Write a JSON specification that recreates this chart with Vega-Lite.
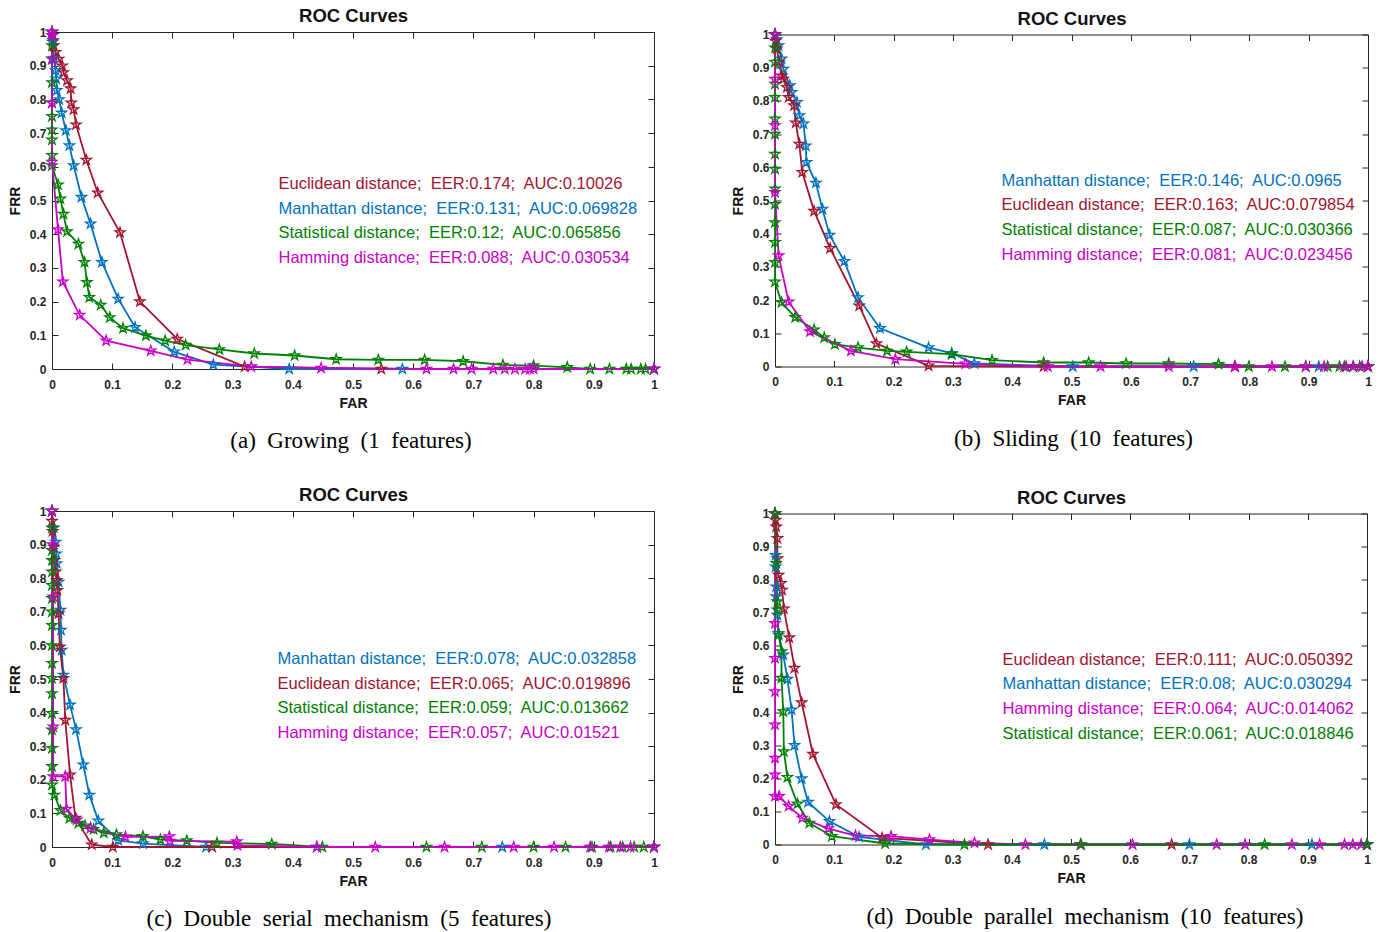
{
  "$schema": "https://vega.github.io/schema/vega-lite/v6.json",
  "padding": {"left": 7, "top": 6, "right": 4, "bottom": 0},
  "background": "white",
  "config": {
    "font": "Liberation Sans",
    "view": {"stroke": "#262626", "strokeWidth": 1},
    "axis": {"domain": false, "grid": false, "tickCount": 10, "tickSize": -6, "tickColor": "#262626", "tickWidth": 1,
             "labelFont": "Liberation Sans", "labelFontSize": 12, "labelFontWeight": "bold", "labelColor": "#262626",
             "labelPadding": 14, "labelFlush": false, "labelOverlap": false,
             "titleFont": "Liberation Sans", "titleFontSize": 14, "titleFontWeight": "bold", "titleColor": "#111111", "titlePadding": 6},
    "axisX": {"labelPadding": 16},
    "axisY": {"labelPadding": 12, "titlePadding": 7},
    "legend": {"symbolOpacity": 0, "symbolSize": 0, "symbolStrokeWidth": 0, "labelFont": "Liberation Sans", "labelFontSize": 16.5, "labelLimit": 0, "labelOffset": 0, "rowPadding": 7.6, "padding": 0},
    "title": {"font": "Liberation Serif", "fontSize": 23, "fontWeight": "normal", "color": "#000000"}
  },
  "datasets": {
    "a": [
      {"m":"E","x":0,"y":1},{"m":"E","x":0.001,"y":0.99},{"m":"E","x":0.002,"y":0.975},{"m":"E","x":0.003,"y":0.96},{"m":"E","x":0.006,"y":0.94},{"m":"E","x":0.011,"y":0.92},{"m":"E","x":0.017,"y":0.9},{"m":"E","x":0.019,"y":0.88},{"m":"E","x":0.025,"y":0.856},{"m":"E","x":0.031,"y":0.832},{"m":"E","x":0.032,"y":0.79},{"m":"E","x":0.036,"y":0.77},{"m":"E","x":0.04,"y":0.725},{"m":"E","x":0.057,"y":0.62},{"m":"E","x":0.076,"y":0.523},{"m":"E","x":0.113,"y":0.405},{"m":"E","x":0.146,"y":0.2},{"m":"E","x":0.208,"y":0.089},{"m":"E","x":0.32,"y":0.007},{"m":"E","x":0.547,"y":0},{"m":"E","x":1,"y":0},
      {"m":"M","x":0,"y":1},{"m":"M","x":0.001,"y":0.97},{"m":"M","x":0.003,"y":0.921},{"m":"M","x":0.006,"y":0.886},{"m":"M","x":0.007,"y":0.861},{"m":"M","x":0.008,"y":0.827},{"m":"M","x":0.012,"y":0.8},{"m":"M","x":0.016,"y":0.76},{"m":"M","x":0.023,"y":0.708},{"m":"M","x":0.029,"y":0.663},{"m":"M","x":0.036,"y":0.604},{"m":"M","x":0.049,"y":0.51},{"m":"M","x":0.064,"y":0.431},{"m":"M","x":0.083,"y":0.317},{"m":"M","x":0.11,"y":0.208},{"m":"M","x":0.138,"y":0.124},{"m":"M","x":0.203,"y":0.051},{"m":"M","x":0.268,"y":0.013},{"m":"M","x":0.394,"y":0},{"m":"M","x":0.582,"y":0},{"m":"M","x":1,"y":0},
      {"m":"S","x":0,"y":1},{"m":"S","x":0,"y":0.96},{"m":"S","x":0,"y":0.92},{"m":"S","x":0,"y":0.85},{"m":"S","x":0,"y":0.79},{"m":"S","x":0,"y":0.75},{"m":"S","x":0,"y":0.71},{"m":"S","x":0,"y":0.68},{"m":"S","x":0,"y":0.634},{"m":"S","x":0,"y":0.604},{"m":"S","x":0.01,"y":0.547},{"m":"S","x":0.014,"y":0.505},{"m":"S","x":0.019,"y":0.46},{"m":"S","x":0.025,"y":0.408},{"m":"S","x":0.044,"y":0.371},{"m":"S","x":0.054,"y":0.317},{"m":"S","x":0.058,"y":0.257},{"m":"S","x":0.062,"y":0.213},{"m":"S","x":0.081,"y":0.19},{"m":"S","x":0.096,"y":0.153},{"m":"S","x":0.118,"y":0.121},{"m":"S","x":0.156,"y":0.099},{"m":"S","x":0.188,"y":0.084},{"m":"S","x":0.222,"y":0.071},{"m":"S","x":0.278,"y":0.058},{"m":"S","x":0.336,"y":0.046},{"m":"S","x":0.403,"y":0.04},{"m":"S","x":0.472,"y":0.029},{"m":"S","x":0.542,"y":0.027},{"m":"S","x":0.619,"y":0.027},{"m":"S","x":0.683,"y":0.023},{"m":"S","x":0.749,"y":0.012},{"m":"S","x":0.8,"y":0.01},{"m":"S","x":0.856,"y":0.005},{"m":"S","x":0.894,"y":0},{"m":"S","x":0.926,"y":0},{"m":"S","x":0.954,"y":0},{"m":"S","x":0.962,"y":0},{"m":"S","x":0.978,"y":0},{"m":"S","x":0.986,"y":0},{"m":"S","x":1,"y":0},
      {"m":"H","x":0,"y":1},{"m":"H","x":0,"y":0.99},{"m":"H","x":0,"y":0.92},{"m":"H","x":0,"y":0.79},{"m":"H","x":0,"y":0.614},{"m":"H","x":0.01,"y":0.414},{"m":"H","x":0.018,"y":0.259},{"m":"H","x":0.046,"y":0.16},{"m":"H","x":0.09,"y":0.084},{"m":"H","x":0.164,"y":0.054},{"m":"H","x":0.225,"y":0.028},{"m":"H","x":0.331,"y":0.007},{"m":"H","x":0.447,"y":0.003},{"m":"H","x":0.622,"y":0},{"m":"H","x":0.667,"y":0},{"m":"H","x":0.697,"y":0},{"m":"H","x":0.733,"y":0},{"m":"H","x":0.752,"y":0},{"m":"H","x":0.769,"y":0},{"m":"H","x":0.786,"y":0},{"m":"H","x":0.794,"y":0},{"m":"H","x":0.8,"y":0},{"m":"H","x":1,"y":0}
    ],
    "b": [
      {"m":"M","x":0,"y":1},{"m":"M","x":0.003,"y":0.985},{"m":"M","x":0.006,"y":0.967},{"m":"M","x":0.011,"y":0.927},{"m":"M","x":0.014,"y":0.896},{"m":"M","x":0.025,"y":0.846},{"m":"M","x":0.028,"y":0.826},{"m":"M","x":0.037,"y":0.796},{"m":"M","x":0.041,"y":0.756},{"m":"M","x":0.048,"y":0.731},{"m":"M","x":0.052,"y":0.665},{"m":"M","x":0.053,"y":0.615},{"m":"M","x":0.069,"y":0.553},{"m":"M","x":0.08,"y":0.474},{"m":"M","x":0.092,"y":0.396},{"m":"M","x":0.117,"y":0.317},{"m":"M","x":0.14,"y":0.208},{"m":"M","x":0.177,"y":0.115},{"m":"M","x":0.259,"y":0.057},{"m":"M","x":0.298,"y":0.04},{"m":"M","x":0.336,"y":0.009},{"m":"M","x":0.502,"y":0},{"m":"M","x":0.706,"y":0},{"m":"M","x":0.917,"y":0},{"m":"M","x":1,"y":0},
      {"m":"E","x":0,"y":1},{"m":"E","x":0.001,"y":0.98},{"m":"E","x":0.003,"y":0.957},{"m":"E","x":0.007,"y":0.917},{"m":"E","x":0.011,"y":0.876},{"m":"E","x":0.014,"y":0.866},{"m":"E","x":0.02,"y":0.841},{"m":"E","x":0.023,"y":0.811},{"m":"E","x":0.032,"y":0.786},{"m":"E","x":0.035,"y":0.734},{"m":"E","x":0.041,"y":0.67},{"m":"E","x":0.046,"y":0.585},{"m":"E","x":0.066,"y":0.468},{"m":"E","x":0.093,"y":0.356},{"m":"E","x":0.142,"y":0.183},{"m":"E","x":0.171,"y":0.069},{"m":"E","x":0.259,"y":0.002},{"m":"E","x":0.453,"y":0},{"m":"E","x":0.776,"y":0},{"m":"E","x":1,"y":0},
      {"m":"S","x":0,"y":1},{"m":"S","x":0,"y":0.96},{"m":"S","x":0,"y":0.917},{"m":"S","x":0,"y":0.851},{"m":"S","x":0,"y":0.811},{"m":"S","x":0,"y":0.746},{"m":"S","x":0,"y":0.7},{"m":"S","x":0,"y":0.64},{"m":"S","x":0,"y":0.595},{"m":"S","x":0,"y":0.535},{"m":"S","x":0,"y":0.489},{"m":"S","x":0,"y":0.434},{"m":"S","x":0,"y":0.374},{"m":"S","x":0,"y":0.314},{"m":"S","x":0,"y":0.255},{"m":"S","x":0.011,"y":0.193},{"m":"S","x":0.034,"y":0.148},{"m":"S","x":0.066,"y":0.111},{"m":"S","x":0.083,"y":0.087},{"m":"S","x":0.101,"y":0.067},{"m":"S","x":0.14,"y":0.057},{"m":"S","x":0.189,"y":0.047},{"m":"S","x":0.222,"y":0.044},{"m":"S","x":0.298,"y":0.037},{"m":"S","x":0.366,"y":0.019},{"m":"S","x":0.453,"y":0.012},{"m":"S","x":0.529,"y":0.012},{"m":"S","x":0.592,"y":0.009},{"m":"S","x":0.664,"y":0.009},{"m":"S","x":0.748,"y":0.007},{"m":"S","x":0.799,"y":0},{"m":"S","x":0.86,"y":0},{"m":"S","x":0.895,"y":0},{"m":"S","x":0.932,"y":0},{"m":"S","x":0.952,"y":0},{"m":"S","x":0.963,"y":0},{"m":"S","x":0.975,"y":0},{"m":"S","x":0.986,"y":0},{"m":"S","x":1,"y":0},
      {"m":"H","x":0,"y":1},{"m":"H","x":0,"y":0.866},{"m":"H","x":0,"y":0.726},{"m":"H","x":0,"y":0.525},{"m":"H","x":0.006,"y":0.334},{"m":"H","x":0.023,"y":0.195},{"m":"H","x":0.059,"y":0.105},{"m":"H","x":0.128,"y":0.047},{"m":"H","x":0.203,"y":0.022},{"m":"H","x":0.321,"y":0.008},{"m":"H","x":0.46,"y":0},{"m":"H","x":0.549,"y":0},{"m":"H","x":0.664,"y":0},{"m":"H","x":0.775,"y":0},{"m":"H","x":0.838,"y":0},{"m":"H","x":0.895,"y":0},{"m":"H","x":0.926,"y":0},{"m":"H","x":0.96,"y":0},{"m":"H","x":0.975,"y":0},{"m":"H","x":0.99,"y":0},{"m":"H","x":1,"y":0}
    ],
    "c": [
      {"m":"M","x":0,"y":1},{"m":"M","x":0.003,"y":0.95},{"m":"M","x":0.006,"y":0.908},{"m":"M","x":0.007,"y":0.873},{"m":"M","x":0.008,"y":0.844},{"m":"M","x":0.011,"y":0.789},{"m":"M","x":0.014,"y":0.705},{"m":"M","x":0.015,"y":0.646},{"m":"M","x":0.016,"y":0.586},{"m":"M","x":0.019,"y":0.512},{"m":"M","x":0.03,"y":0.423},{"m":"M","x":0.04,"y":0.35},{"m":"M","x":0.052,"y":0.245},{"m":"M","x":0.062,"y":0.155},{"m":"M","x":0.077,"y":0.078},{"m":"M","x":0.11,"y":0.02},{"m":"M","x":0.151,"y":0.01},{"m":"M","x":0.256,"y":0},{"m":"M","x":0.44,"y":0},{"m":"M","x":0.748,"y":0},{"m":"M","x":1,"y":0},
      {"m":"E","x":0,"y":1},{"m":"E","x":0,"y":0.97},{"m":"E","x":0.001,"y":0.94},{"m":"E","x":0.003,"y":0.893},{"m":"E","x":0.004,"y":0.853},{"m":"E","x":0.006,"y":0.819},{"m":"E","x":0.008,"y":0.794},{"m":"E","x":0.009,"y":0.764},{"m":"E","x":0.011,"y":0.695},{"m":"E","x":0.013,"y":0.596},{"m":"E","x":0.019,"y":0.502},{"m":"E","x":0.022,"y":0.378},{"m":"E","x":0.03,"y":0.215},{"m":"E","x":0.039,"y":0.086},{"m":"E","x":0.066,"y":0.007},{"m":"E","x":0.101,"y":0},{"m":"E","x":0.266,"y":0},{"m":"E","x":1,"y":0},
      {"m":"S","x":0,"y":1},{"m":"S","x":0,"y":0.95},{"m":"S","x":0,"y":0.883},{"m":"S","x":0,"y":0.853},{"m":"S","x":0,"y":0.819},{"m":"S","x":0,"y":0.779},{"m":"S","x":0,"y":0.74},{"m":"S","x":0,"y":0.7},{"m":"S","x":0,"y":0.66},{"m":"S","x":0,"y":0.6},{"m":"S","x":0,"y":0.547},{"m":"S","x":0,"y":0.502},{"m":"S","x":0,"y":0.457},{"m":"S","x":0,"y":0.398},{"m":"S","x":0,"y":0.349},{"m":"S","x":0,"y":0.294},{"m":"S","x":0,"y":0.24},{"m":"S","x":0,"y":0.185},{"m":"S","x":0.004,"y":0.155},{"m":"S","x":0.014,"y":0.109},{"m":"S","x":0.029,"y":0.086},{"m":"S","x":0.044,"y":0.071},{"m":"S","x":0.055,"y":0.063},{"m":"S","x":0.069,"y":0.053},{"m":"S","x":0.086,"y":0.042},{"m":"S","x":0.107,"y":0.037},{"m":"S","x":0.151,"y":0.032},{"m":"S","x":0.18,"y":0.022},{"m":"S","x":0.224,"y":0.019},{"m":"S","x":0.274,"y":0.012},{"m":"S","x":0.365,"y":0.009},{"m":"S","x":0.449,"y":0},{"m":"S","x":0.622,"y":0},{"m":"S","x":0.714,"y":0},{"m":"S","x":0.8,"y":0},{"m":"S","x":0.853,"y":0},{"m":"S","x":0.897,"y":0},{"m":"S","x":0.928,"y":0},{"m":"S","x":0.948,"y":0},{"m":"S","x":0.967,"y":0},{"m":"S","x":0.983,"y":0},{"m":"S","x":1,"y":0},
      {"m":"H","x":0,"y":1},{"m":"H","x":0.001,"y":0.9},{"m":"H","x":0.002,"y":0.745},{"m":"H","x":0.002,"y":0.358},{"m":"H","x":0.002,"y":0.21},{"m":"H","x":0.022,"y":0.21},{"m":"H","x":0.024,"y":0.113},{"m":"H","x":0.041,"y":0.081},{"m":"H","x":0.064,"y":0.056},{"m":"H","x":0.122,"y":0.03},{"m":"H","x":0.195,"y":0.031},{"m":"H","x":0.196,"y":0.018},{"m":"H","x":0.307,"y":0.016},{"m":"H","x":0.308,"y":0.005},{"m":"H","x":0.44,"y":0},{"m":"H","x":0.537,"y":0},{"m":"H","x":0.652,"y":0},{"m":"H","x":0.767,"y":0},{"m":"H","x":0.834,"y":0},{"m":"H","x":0.894,"y":0},{"m":"H","x":0.925,"y":0},{"m":"H","x":0.944,"y":0},{"m":"H","x":0.961,"y":0},{"m":"H","x":1,"y":0}
    ],
    "d": [
      {"m":"E","x":0,"y":1},{"m":"E","x":0.001,"y":0.98},{"m":"E","x":0.002,"y":0.96},{"m":"E","x":0.004,"y":0.925},{"m":"E","x":0.004,"y":0.864},{"m":"E","x":0.006,"y":0.814},{"m":"E","x":0.01,"y":0.789},{"m":"E","x":0.012,"y":0.769},{"m":"E","x":0.015,"y":0.712},{"m":"E","x":0.024,"y":0.625},{"m":"E","x":0.033,"y":0.533},{"m":"E","x":0.045,"y":0.429},{"m":"E","x":0.064,"y":0.273},{"m":"E","x":0.103,"y":0.121},{"m":"E","x":0.181,"y":0.02},{"m":"E","x":0.36,"y":0},{"m":"E","x":0.67,"y":0},{"m":"E","x":1,"y":0},
      {"m":"M","x":0,"y":1},{"m":"M","x":0.001,"y":0.874},{"m":"M","x":0.001,"y":0.839},{"m":"M","x":0.002,"y":0.779},{"m":"M","x":0.002,"y":0.749},{"m":"M","x":0.004,"y":0.693},{"m":"M","x":0.006,"y":0.638},{"m":"M","x":0.014,"y":0.573},{"m":"M","x":0.021,"y":0.5},{"m":"M","x":0.028,"y":0.407},{"m":"M","x":0.033,"y":0.3},{"m":"M","x":0.045,"y":0.199},{"m":"M","x":0.056,"y":0.128},{"m":"M","x":0.092,"y":0.07},{"m":"M","x":0.142,"y":0.023},{"m":"M","x":0.255,"y":0},{"m":"M","x":0.455,"y":0},{"m":"M","x":0.7,"y":0},{"m":"M","x":0.907,"y":0},{"m":"M","x":1,"y":0},
      {"m":"H","x":0,"y":1},{"m":"H","x":0,"y":0.668},{"m":"H","x":0,"y":0.563},{"m":"H","x":0,"y":0.462},{"m":"H","x":0,"y":0.362},{"m":"H","x":0,"y":0.261},{"m":"H","x":0,"y":0.211},{"m":"H","x":0,"y":0.146},{"m":"H","x":0.007,"y":0.146},{"m":"H","x":0.023,"y":0.116},{"m":"H","x":0.046,"y":0.08},{"m":"H","x":0.09,"y":0.048},{"m":"H","x":0.136,"y":0.027},{"m":"H","x":0.196,"y":0.025},{"m":"H","x":0.261,"y":0.015},{"m":"H","x":0.337,"y":0.005},{"m":"H","x":0.423,"y":0},{"m":"H","x":0.516,"y":0},{"m":"H","x":0.604,"y":0},{"m":"H","x":0.746,"y":0},{"m":"H","x":0.794,"y":0},{"m":"H","x":0.873,"y":0},{"m":"H","x":0.92,"y":0},{"m":"H","x":0.962,"y":0},{"m":"H","x":0.976,"y":0},{"m":"H","x":0.99,"y":0},{"m":"H","x":1,"y":0},
      {"m":"S","x":0,"y":1},{"m":"S","x":0.002,"y":0.85},{"m":"S","x":0.004,"y":0.734},{"m":"S","x":0.004,"y":0.709},{"m":"S","x":0.006,"y":0.633},{"m":"S","x":0.011,"y":0.583},{"m":"S","x":0.011,"y":0.503},{"m":"S","x":0.014,"y":0.402},{"m":"S","x":0.015,"y":0.281},{"m":"S","x":0.021,"y":0.203},{"m":"S","x":0.038,"y":0.123},{"m":"S","x":0.058,"y":0.065},{"m":"S","x":0.096,"y":0.025},{"m":"S","x":0.186,"y":0.003},{"m":"S","x":0.32,"y":0},{"m":"S","x":0.517,"y":0},{"m":"S","x":0.827,"y":0},{"m":"S","x":1,"y":0}
    ]
  },
  "bounds": "flush",
  "spacing": 479,
  "resolve": {"scale": {"color": "independent"}},
  "vconcat": [
    {
      "bounds": "flush", "spacing": 121, "center": true,
      "resolve": {"scale": {"color": "independent"}},
      "hconcat": [
        {
          "width": 602, "height": 337,
          "data": {"name": "a"},
          "title": {"text": "(a) \u00a0Growing \u00a0(1 \u00a0features)", "orient": "bottom", "anchor": "middle", "frame": "group", "offset": 20, "dx": -2},
          "encoding": {"color": {"field": "m", "type": "nominal",
            "scale": {"domain": ["E","M","S","H"], "range": ["#A2142F","#0072BD","#008000","#C800C8"]},
            "legend": {"orient": "none", "legendX": 210, "legendY": 144, "title": null,
              "labelExpr": "datum.value == 'E' ? 'Euclidean distance;\u00a0 EER:0.174;\u00a0 AUC:0.10026' : datum.value == 'M' ? 'Manhattan distance;\u00a0 EER:0.131;\u00a0 AUC:0.069828' : datum.value == 'S' ? 'Statistical distance;\u00a0 EER:0.12;\u00a0 AUC:0.065856' : 'Hamming distance;\u00a0 EER:0.088;\u00a0 AUC:0.030534'",
              "labelColor": {"expr": "datum.value == 'E' ? '#A2142F' : datum.value == 'M' ? '#0072BD' : datum.value == 'S' ? '#008000' : '#C800C8'"}}}},
          "layer": [
            {"mark": {"type": "line", "strokeWidth": 1.8},
             "encoding": {"x": {"field": "x", "type": "quantitative", "scale": {"domain": [0, 1], "nice": false}, "axis": {"orient": "bottom", "title": "FAR", "format": "~g"}},
                          "y": {"field": "y", "type": "quantitative", "scale": {"domain": [0, 1], "nice": false}, "axis": {"orient": "left", "title": "FRR", "format": "~g"}}}},
            {"mark": {"type": "point", "shape": "M0,-1L0.2245,-0.309L0.951,-0.309L0.363,0.118L0.588,0.809L0,0.382L-0.588,0.809L-0.363,0.118L-0.951,-0.309L-0.2245,-0.309Z", "filled": false, "size": 110, "strokeWidth": 1.3, "opacity": 1},
             "encoding": {"x": {"field": "x", "type": "quantitative", "axis": {"orient": "top", "labels": false, "title": "ROC Curves", "titleFontSize": 18.5}},
                          "y": {"field": "y", "type": "quantitative", "axis": {"orient": "right", "labels": false, "title": null}}}}
          ]
        },
        {
          "width": 593, "height": 332,
          "data": {"name": "b"},
          "title": {"text": "(b) \u00a0Sliding \u00a0(10 \u00a0features)", "orient": "bottom", "anchor": "middle", "frame": "group", "offset": 20, "dx": 2},
          "encoding": {"color": {"field": "m", "type": "nominal",
            "scale": {"domain": ["M","E","S","H"], "range": ["#0072BD","#A2142F","#008000","#C800C8"]},
            "legend": {"orient": "none", "legendX": 210, "legendY": 138, "title": null,
              "labelExpr": "datum.value == 'E' ? 'Euclidean distance;\u00a0 EER:0.163;\u00a0 AUC:0.079854' : datum.value == 'M' ? 'Manhattan distance;\u00a0 EER:0.146;\u00a0 AUC:0.0965' : datum.value == 'S' ? 'Statistical distance;\u00a0 EER:0.087;\u00a0 AUC:0.030366' : 'Hamming distance;\u00a0 EER:0.081;\u00a0 AUC:0.023456'",
              "labelColor": {"expr": "datum.value == 'E' ? '#A2142F' : datum.value == 'M' ? '#0072BD' : datum.value == 'S' ? '#008000' : '#C800C8'"}}}},
          "layer": [
            {"mark": {"type": "line", "strokeWidth": 1.8},
             "encoding": {"x": {"field": "x", "type": "quantitative", "scale": {"domain": [0, 1], "nice": false}, "axis": {"orient": "bottom", "title": "FAR", "format": "~g"}},
                          "y": {"field": "y", "type": "quantitative", "scale": {"domain": [0, 1], "nice": false}, "axis": {"orient": "left", "title": "FRR", "format": "~g"}}}},
            {"mark": {"type": "point", "shape": "M0,-1L0.2245,-0.309L0.951,-0.309L0.363,0.118L0.588,0.809L0,0.382L-0.588,0.809L-0.363,0.118L-0.951,-0.309L-0.2245,-0.309Z", "filled": false, "size": 110, "strokeWidth": 1.3, "opacity": 1},
             "encoding": {"x": {"field": "x", "type": "quantitative", "axis": {"orient": "top", "labels": false, "title": "ROC Curves", "titleFontSize": 18.5}},
                          "y": {"field": "y", "type": "quantitative", "axis": {"orient": "right", "labels": false, "title": null}}}}
          ]
        }
      ]
    },
    {
      "bounds": "flush", "spacing": 121, "center": true,
      "resolve": {"scale": {"color": "independent"}},
      "hconcat": [
        {
          "width": 602, "height": 336,
          "data": {"name": "c"},
          "title": {"text": "(c) \u00a0Double \u00a0serial \u00a0mechanism \u00a0(5 \u00a0features)", "orient": "bottom", "anchor": "middle", "frame": "group", "offset": 20, "dx": -4},
          "encoding": {"color": {"field": "m", "type": "nominal",
            "scale": {"domain": ["M","E","S","H"], "range": ["#0072BD","#A2142F","#008000","#C800C8"]},
            "legend": {"orient": "none", "legendX": 209, "legendY": 140, "title": null,
              "labelExpr": "datum.value == 'E' ? 'Euclidean distance;\u00a0 EER:0.065;\u00a0 AUC:0.019896' : datum.value == 'M' ? 'Manhattan distance;\u00a0 EER:0.078;\u00a0 AUC:0.032858' : datum.value == 'S' ? 'Statistical distance;\u00a0 EER:0.059;\u00a0 AUC:0.013662' : 'Hamming distance;\u00a0 EER:0.057;\u00a0 AUC:0.01521'",
              "labelColor": {"expr": "datum.value == 'E' ? '#A2142F' : datum.value == 'M' ? '#0072BD' : datum.value == 'S' ? '#008000' : '#C800C8'"}}}},
          "layer": [
            {"mark": {"type": "line", "strokeWidth": 1.8},
             "encoding": {"x": {"field": "x", "type": "quantitative", "scale": {"domain": [0, 1], "nice": false}, "axis": {"orient": "bottom", "title": "FAR", "format": "~g"}},
                          "y": {"field": "y", "type": "quantitative", "scale": {"domain": [0, 1], "nice": false}, "axis": {"orient": "left", "title": "FRR", "format": "~g"}}}},
            {"mark": {"type": "point", "shape": "M0,-1L0.2245,-0.309L0.951,-0.309L0.363,0.118L0.588,0.809L0,0.382L-0.588,0.809L-0.363,0.118L-0.951,-0.309L-0.2245,-0.309Z", "filled": false, "size": 110, "strokeWidth": 1.3, "opacity": 1},
             "encoding": {"x": {"field": "x", "type": "quantitative", "axis": {"orient": "top", "labels": false, "title": "ROC Curves", "titleFontSize": 18.5}},
                          "y": {"field": "y", "type": "quantitative", "axis": {"orient": "right", "labels": false, "title": null}}}}
          ]
        },
        {
          "width": 592, "height": 331,
          "data": {"name": "d"},
          "title": {"text": "(d) \u00a0Double \u00a0parallel \u00a0mechanism \u00a0(10 \u00a0features)", "orient": "bottom", "anchor": "middle", "frame": "group", "offset": 20, "dx": 14},
          "encoding": {"color": {"field": "m", "type": "nominal",
            "scale": {"domain": ["E","M","H","S"], "range": ["#A2142F","#0072BD","#C800C8","#008000"]},
            "legend": {"orient": "none", "legendX": 211, "legendY": 138, "title": null,
              "labelExpr": "datum.value == 'E' ? 'Euclidean distance;\u00a0 EER:0.111;\u00a0 AUC:0.050392' : datum.value == 'M' ? 'Manhattan distance;\u00a0 EER:0.08;\u00a0 AUC:0.030294' : datum.value == 'S' ? 'Statistical distance;\u00a0 EER:0.061;\u00a0 AUC:0.018846' : 'Hamming distance;\u00a0 EER:0.064;\u00a0 AUC:0.014062'",
              "labelColor": {"expr": "datum.value == 'E' ? '#A2142F' : datum.value == 'M' ? '#0072BD' : datum.value == 'S' ? '#008000' : '#C800C8'"}}}},
          "layer": [
            {"mark": {"type": "line", "strokeWidth": 1.8},
             "encoding": {"x": {"field": "x", "type": "quantitative", "scale": {"domain": [0, 1], "nice": false}, "axis": {"orient": "bottom", "title": "FAR", "format": "~g"}},
                          "y": {"field": "y", "type": "quantitative", "scale": {"domain": [0, 1], "nice": false}, "axis": {"orient": "left", "title": "FRR", "format": "~g"}}}},
            {"mark": {"type": "point", "shape": "M0,-1L0.2245,-0.309L0.951,-0.309L0.363,0.118L0.588,0.809L0,0.382L-0.588,0.809L-0.363,0.118L-0.951,-0.309L-0.2245,-0.309Z", "filled": false, "size": 110, "strokeWidth": 1.3, "opacity": 1},
             "encoding": {"x": {"field": "x", "type": "quantitative", "axis": {"orient": "top", "labels": false, "title": "ROC Curves", "titleFontSize": 18.5}},
                          "y": {"field": "y", "type": "quantitative", "axis": {"orient": "right", "labels": false, "title": null}}}}
          ]
        }
      ]
    }
  ]
}
